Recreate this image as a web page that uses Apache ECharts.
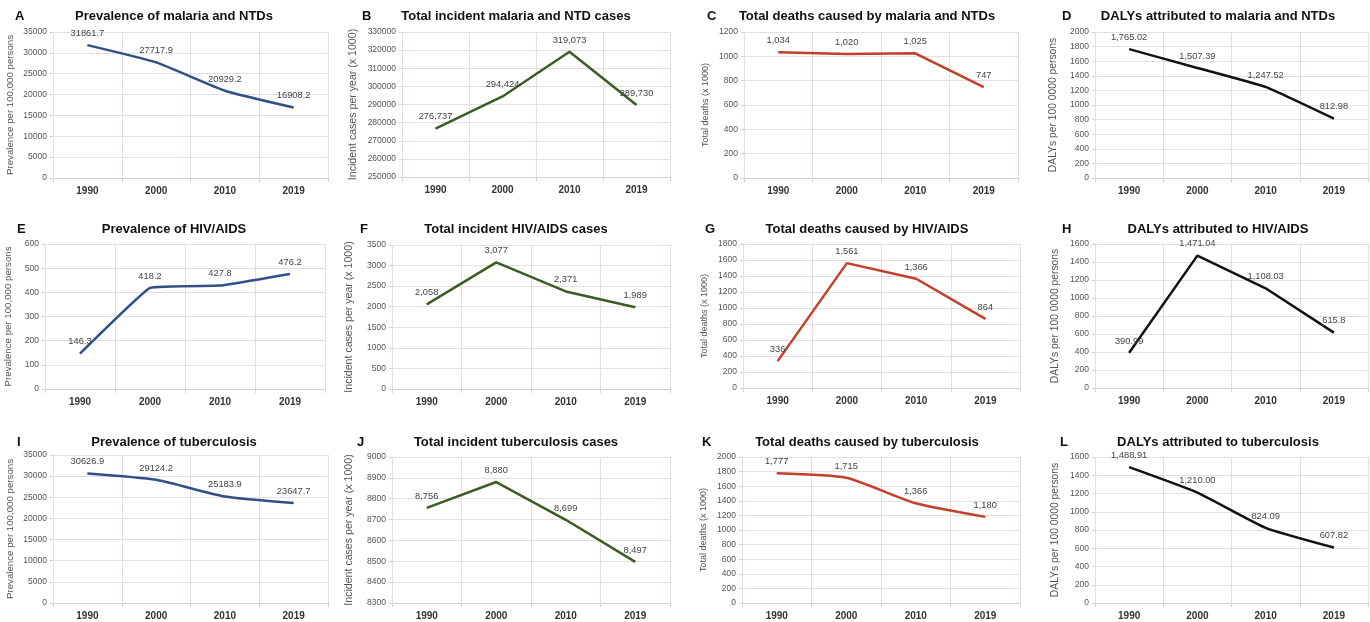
<!DOCTYPE html>
<html>
<head>
<meta charset="utf-8">
<script src="https://cdn.jsdelivr.net/npm/echarts@6/dist/echarts.min.js"></script>
<style>
html,body{margin:0;padding:0;background:#fff;}
#chart{width:1370px;height:622px;}
</style>
</head>
<body>
<div id="chart"></div>
<script>
// ---------- DATA ----------
const years = ['1990', '2000', '2010', '2019'];

const malariaPrev   = [31861.7, 27717.9, 20929.2, 16908.2];
const malariaInc    = [276737, 294424, 319073, 289730];
const malariaDeaths = [1034, 1020, 1025, 747];
const malariaDalys  = [1765.02, 1507.39, 1247.52, 812.98];

const hivPrev   = [146.3, 418.2, 427.8, 476.2];
const hivInc    = [2058, 3077, 2371, 1989];
const hivDeaths = [336, 1561, 1366, 864];
const hivDalys  = [390.99, 1471.04, 1108.03, 615.8];

const tbPrev   = [30626.9, 29124.2, 25183.9, 23647.7];
const tbInc    = [8756, 8880, 8699, 8497];
const tbDeaths = [1777, 1715, 1366, 1180];
const tbDalys  = [1488.91, 1210.00, 824.09, 607.82];

const panelLetters = ['A','B','C','D','E','F','G','H','I','J','K','L'];
const panelTitles = [
  'Prevalence of malaria and NTDs', 'Total incident malaria and NTD cases',
  'Total deaths caused by malaria and NTDs', 'DALYs attributed to malaria and NTDs',
  'Prevalence of HIV/AIDS', 'Total incident HIV/AIDS cases',
  'Total deaths caused by HIV/AIDS', 'DALYs attributed to HIV/AIDS',
  'Prevalence of tuberculosis', 'Total incident tuberculosis cases',
  'Total deaths caused by tuberculosis', 'DALYs attributed to tuberculosis'
];
const yAxisNames = [
  'Prevalence per 100,000 persons', 'Incident cases per year (x 1000)',
  'Total deaths (x 1000)', 'DALYs per 100 0000 persons'
];
// y-axis ranges: [min, max, interval]
const yRanges = [
  [0, 35000, 5000], [250000, 330000, 10000], [0, 1200, 200], [0, 2000, 200],
  [0, 600, 100], [0, 3500, 500], [0, 1800, 200], [0, 1600, 200],
  [0, 35000, 5000], [8300, 9000, 100], [0, 2000, 200], [0, 1600, 200]
];
const seriesData = [
  malariaPrev, malariaInc, malariaDeaths, malariaDalys,
  hivPrev, hivInc, hivDeaths, hivDalys,
  tbPrev, tbInc, tbDeaths, tbDalys
];

// ---------- LAYOUT / STYLE ----------
const grids = [
  [53, 32, 275, 146], [402, 32, 268, 145], [744, 32, 274, 146], [1095, 32, 273, 146],
  [45, 244, 280, 145], [392, 245, 278, 144], [743, 244, 277, 144], [1095, 244, 273, 144],
  [53, 455, 275, 148], [392, 457, 278, 146], [742, 457, 278, 146], [1095, 457, 273, 146]
];
const titleCenters = [169, 511, 862, 1213];
const titleTops = [5, 218, 431];
const letterX = [[10, 357, 702, 1057], [12, 355, 700, 1057], [12, 352, 697, 1055]];
const colColors = ['#2f4f85', '#3c5c22', '#c43e2c', '#111111'];
const smoothFlags = [0.15, 0, 0, 0.1, 0.08, 0, 0, 0, 0.2, 0, 0.2, 0.15];
// label number format per panel: [useGrouping, minFrac, maxFrac]
const labelFormats = [
  [false,1,1],[true,0,0],[true,0,0],[true,1,2],
  [false,1,1],[true,0,0],[true,0,0],[true,1,2],
  [false,1,1],[true,0,0],[true,0,0],[true,2,2]
];
const nameGaps = [38, 43, 34, 37, 32, 37, 34, 35, 38, 37, 34, 35];
const nameFontSizes = [9.7, 10.6, 9, 10.3];

const FONT = 'Liberation Sans, Arial, sans-serif';
const gridLineColor = '#e6dede';

const option = {
  backgroundColor: '#ffffff',
  animation: false,
  textStyle: { fontFamily: FONT },
  title: [],
  grid: [],
  xAxis: [],
  yAxis: [],
  series: []
};

for (let i = 0; i < 12; i++) {
  const row = Math.floor(i / 4), col = i % 4;
  const g = grids[i];
  option.grid.push({ left: g[0], top: g[1], width: g[2], height: g[3], containLabel: false });
  option.title.push({
    text: panelTitles[i], left: titleCenters[col], top: titleTops[row], textAlign: 'center',
    textStyle: { fontSize: 13, fontWeight: 'bold', color: '#111', fontFamily: FONT }
  });
  option.title.push({
    text: panelLetters[i], left: letterX[row][col], top: titleTops[row],
    textStyle: { fontSize: 13, fontWeight: 'bold', color: '#111', fontFamily: FONT }
  });
  option.xAxis.push({
    type: 'category', gridIndex: i, data: years, boundaryGap: true,
    axisLine: { show: true, lineStyle: { color: '#d8d0d0', width: 1 } },
    axisTick: { show: true, length: 4, lineStyle: { color: '#d8d0d0' } },
    axisLabel: { fontSize: 10, fontWeight: 'bold', color: '#333', margin: 8, fontFamily: FONT },
    splitLine: { show: true, lineStyle: { color: gridLineColor, width: 1 } }
  });
  const r = yRanges[i];
  option.yAxis.push({
    type: 'value', gridIndex: i, min: r[0], max: r[1], interval: r[2],
    name: yAxisNames[col], nameLocation: 'middle', nameGap: nameGaps[i],
    nameTextStyle: { fontSize: nameFontSizes[col], color: '#555', fontFamily: FONT },
    axisLine: { show: false },
    axisTick: { show: true, length: 3, lineStyle: { color: '#d8d0d0' } },
    axisLabel: { fontSize: 8.5, color: '#555', margin: 6, formatter: v => String(v), fontFamily: FONT },
    splitLine: { show: true, lineStyle: { color: gridLineColor, width: 1 } }
  });
  const fmt = labelFormats[i];
  const nf = new Intl.NumberFormat('en-US', { useGrouping: fmt[0], minimumFractionDigits: fmt[1], maximumFractionDigits: fmt[2] });
  option.series.push({
    type: 'line', xAxisIndex: i, yAxisIndex: i, data: seriesData[i],
    smooth: smoothFlags[i] ? smoothFlags[i] : false,
    showSymbol: true, symbol: 'circle', symbolSize: 0.5,
    lineStyle: { color: colColors[col], width: 2.5 },
    itemStyle: { color: colColors[col] },
    label: {
      show: true, position: 'top', distance: 7, fontSize: 9.3, color: '#444', fontFamily: FONT,
      formatter: p => nf.format(p.value)
    },
    z: 3
  });
}

const chart = echarts.init(document.getElementById('chart'), null, { renderer: 'canvas' });
chart.setOption(option);
</script>
</body>
</html>
